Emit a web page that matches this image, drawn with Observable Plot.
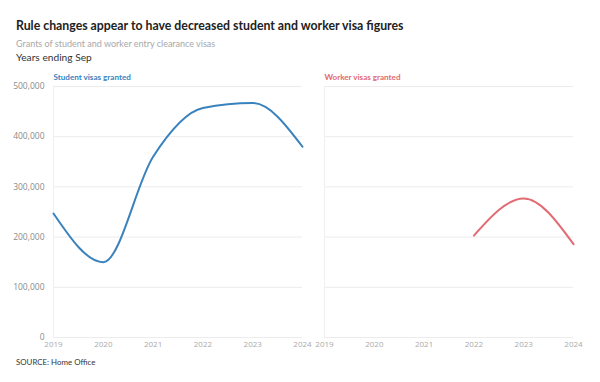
<!DOCTYPE html>
<html>
<head>
<meta charset="utf-8">
<script src="https://cdn.jsdelivr.net/npm/d3@7"></script>
<script src="https://cdn.jsdelivr.net/npm/@observablehq/plot@0.6"></script>
<style>
  html, body { margin: 0; padding: 0; background: #fff; }
  body { width: 600px; height: 382px; overflow: hidden; font-family: Lato, "Open Sans", sans-serif; }
  #wrap { padding: 17px 0 0 0; }
  .title { margin-left: 16px; font-size: 12.3px; line-height: 18px; font-weight: 700; color: #222; }
  .sub { margin-left: 16px; margin-top: 2px; font-size: 9px; line-height: 14px; color: #a8a8a8; }
  .unit { margin-left: 16px; font-size: 10.2px; line-height: 13px; color: #333; }
  .src { margin-left: 16px; font-size: 7.9px; line-height: 12px; color: #333; margin-top: 0px; }
  svg { display: block; }
</style>
</head>
<body>
<div id="wrap">
  <div class="title">Rule changes appear to have decreased student and worker visa figures</div>
  <div class="sub">Grants of student and worker entry clearance visas</div>
  <div class="unit">Years ending Sep</div>
  <div id="chart"></div>
  <div class="src">SOURCE: Home Office</div>
</div>
<script>
const years = [2019, 2020, 2021, 2022, 2023, 2024];
const studentVisas = [247000, 150000, 360000, 457000, 467000, 380000];
const workerYears = [2022, 2023, 2024];
const workerVisas = [203000, 277000, 186000];
const panels = ["Student visas granted", "Worker visas granted"];
const panelColors = ["#3a82bd", "#e26a72"];
const yTicks = [0, 100000, 200000, 300000, 400000, 500000];

const studentData = years.map((y, i) => ({year: y, value: studentVisas[i], panel: panels[0]}));
const workerData = workerYears.map((y, i) => ({year: y, value: workerVisas[i], panel: panels[1]}));
const labelData = panels.map((p, i) => ({panel: p, color: panelColors[i]}));

const chart = Plot.plot({
  width: 600,
  height: 292,
  marginTop: 22,
  marginBottom: 19,
  marginLeft: 53,
  marginRight: 26,
  style: {fontFamily: "'Open Sans', Lato, sans-serif", background: "#fff"},
  fx: {domain: panels, axis: null, paddingInner: 0.081, paddingOuter: 0},
  x: {domain: [2019, 2024]},
  y: {domain: [0, 500000]},
  marks: [
    Plot.gridY({ticks: yTicks, stroke: "#ececec", strokeOpacity: 1}),
    Plot.ruleX([2019], {stroke: "#f0f0f0", strokeOpacity: 1}),
    Plot.axisY({ticks: yTicks, tickSize: 0, tickPadding: 9, tickFormat: d3.format(","), fill: "#8a8a8a", fontSize: 8.5, label: null}),
    Plot.axisX({ticks: years, tickSize: 0, tickPadding: 4, tickFormat: d => String(d), fill: "#aaaaaa", fontSize: 8, label: null}),
    Plot.line(studentData, {x: "year", y: "value", fx: "panel", curve: "monotone-x", stroke: panelColors[0], strokeWidth: 2}),
    Plot.line(workerData, {x: "year", y: "value", fx: "panel", curve: "monotone-x", stroke: panelColors[1], strokeWidth: 2}),
    Plot.text(labelData, {fx: "panel", text: "panel", fill: "color", frameAnchor: "top-left", dy: -12.5, fontSize: 8.1, fontWeight: 700, fontFamily: "Lato, sans-serif"})
  ]
});
document.getElementById("chart").append(chart);
</script>
</body>
</html>
